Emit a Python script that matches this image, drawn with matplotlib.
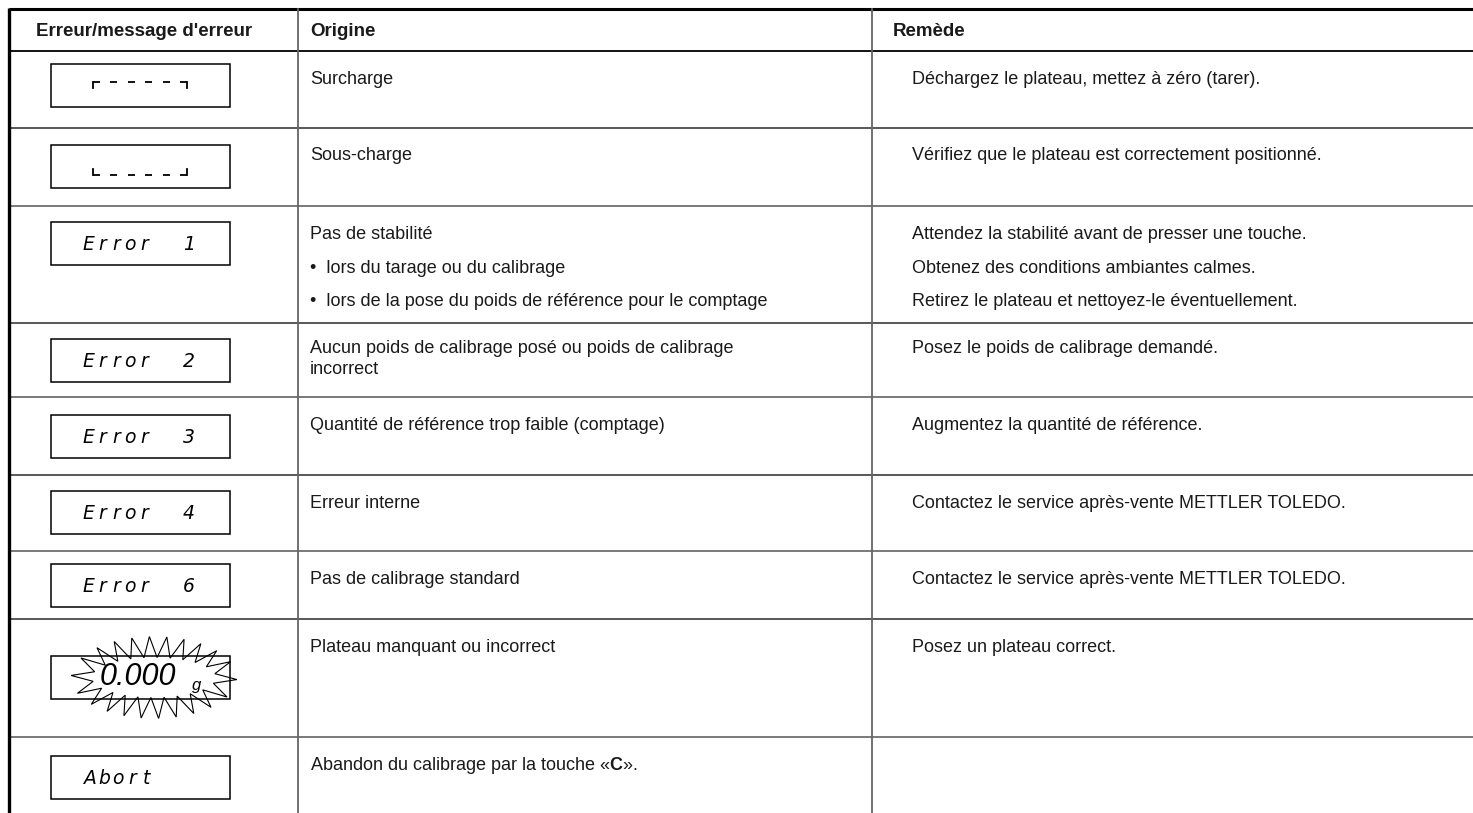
import numpy as np
import matplotlib
matplotlib.use("Agg")
import matplotlib.pyplot as plt
from matplotlib.patches import Rectangle, Polygon

# ---------------- data ----------------
headers = ["Erreur/message d'erreur", "Origine", "Remède"]
displays = ["OVERLOAD", "UNDERLOAD", "Error 1", "Error 2", "Error 3",
            "Error 4", "Error 6", "0.000 g", "Abort"]
origins = [
    ["Surcharge"],
    ["Sous-charge"],
    ["Pas de stabilité",
     "•  lors du tarage ou du calibrage",
     "•  lors de la pose du poids de référence pour le comptage"],
    ["Aucun poids de calibrage posé ou poids de calibrage", "incorrect"],
    ["Quantité de référence trop faible (comptage)"],
    ["Erreur interne"],
    ["Pas de calibrage standard"],
    ["Plateau manquant ou incorrect"],
    ["Abandon du calibrage par la touche «$\\mathbf{C}$»."],
]
remedies = [
    ["Déchargez le plateau, mettez à zéro (tarer)."],
    ["Vérifiez que le plateau est correctement positionné."],
    ["Attendez la stabilité avant de presser une touche.",
     "Obtenez des conditions ambiantes calmes.",
     "Retirez le plateau et nettoyez-le éventuellement."],
    ["Posez le poids de calibrage demandé."],
    ["Augmentez la quantité de référence."],
    ["Contactez le service après-vente METTLER TOLEDO."],
    ["Contactez le service après-vente METTLER TOLEDO."],
    ["Posez un plateau correct."],
    [],
]

# ---------------- layout ----------------
W, H = 1473, 813
row_lines = [51, 128, 206, 323, 397, 475, 551, 619, 737]
col_x = [9, 298, 872]
BODY = ['Liberation Sans', 'DejaVu Sans']
TXT = '#1a1a1a'

plt.rcParams['font.family'] = BODY
plt.rcParams['mathtext.fontset'] = 'custom'
plt.rcParams['mathtext.bf'] = 'Liberation Sans:bold'
plt.rcParams['mathtext.rm'] = 'Liberation Sans'

fig = plt.figure(figsize=(W / 100, H / 100), dpi=100)
ax = fig.add_axes([0, 0, 1, 1])
ax.set_xlim(0, W)
ax.set_ylim(H, 0)
ax.axis('off')

# grid lines
ax.plot([col_x[0], W], [9, 9], color='black', lw=2.2, solid_capstyle='butt')
ax.plot([col_x[0], W], [51, 51], color='black', lw=1.3)
for k, y in enumerate(row_lines[1:]):
    ax.plot([col_x[0], W], [y, y], color='#2a2a2a' if k % 2 == 0 else '#555555', lw=1.1)
ax.plot([col_x[0], col_x[0]], [8, H], color='black', lw=2.4, solid_capstyle='butt')
for x in col_x[1:]:
    ax.plot([x, x], [9, H], color='#666666', lw=1.3)

# headers
fs = 13
hfs = 13.5
ax.text(144, 31, headers[0], ha='center', va='center', fontsize=hfs, fontweight='bold', color=TXT)
ax.text(310, 31, headers[1], ha='left', va='center', fontsize=hfs, fontweight='bold', color=TXT)
ax.text(893, 31, headers[2], ha='left', va='center', fontsize=hfs, fontweight='bold', color=TXT)

row_tops = row_lines

# text cells
for i, (orig, rem) in enumerate(zip(origins, remedies)):
    top = row_tops[i]
    y0 = top + (25 if i == 3 else 28)
    steps = [0, 34, 67] if i == 2 else [0, 21, 42]
    for k, line in enumerate(orig):
        ax.text(310, y0 + steps[k], line, ha='left', va='center', fontsize=fs, color=TXT)
    for k, line in enumerate(rem):
        ax.text(912, y0 + steps[k], line, ha='left', va='center', fontsize=fs, color=TXT)

# display boxes
BX0, BX1 = 51, 230
DISP_FONT = ['DejaVu Sans']
box_off = [13, 17, 16, 16, 18, 16, 13, 37, 19]
for i, disp in enumerate(displays):
    top = row_tops[i]
    by0 = top + box_off[i]
    bh = 43
    cy = by0 + bh / 2
    ax.add_patch(Rectangle((BX0, by0), BX1 - BX0, bh, fill=False, ec='black', lw=1.1, zorder=3))
    if disp in ("OVERLOAD", "UNDERLOAD"):
        segs = np.linspace(93, 180, 6)
        if disp == "OVERLOAD":
            ly, tick = cy - 3.5, cy + 2.5
        else:
            ly, tick = cy + 9, cy + 3
        for k, sx in enumerate(segs):
            ax.plot([sx, sx + 7], [ly, ly], color='black', lw=1.3, solid_capstyle='butt')
        ax.plot([segs[0], segs[0]], [ly, tick], color='black', lw=1.3)
        ax.plot([segs[-1] + 7, segs[-1] + 7], [ly, tick], color='black', lw=1.3)
    elif disp.startswith("Error"):
        word, num = disp.split()
        for k, ch in enumerate(word):
            ax.text(88 + 14 * k, cy + 1, ch, ha='center', va='center', fontsize=13.5,
                    style='oblique', family=DISP_FONT, color='black')
        ax.text(189, cy + 1, num, ha='center', va='center', fontsize=13.5,
                style='oblique', family=DISP_FONT, color='black')
    elif disp == "Abort":
        for k, ch in enumerate(disp):
            ax.text(90 + 14 * k, cy + 1, ch, ha='center', va='center', fontsize=13.5,
                    style='oblique', family=DISP_FONT, color='black')
    else:
        # flashing 0.000 g display with starburst (spikes spread evenly along an ellipse)
        cx = 154
        n = 22
        tt = np.linspace(0, 2 * np.pi, 4000)
        mx, my = 72 * np.cos(tt), 30 * np.sin(tt)
        seg = np.hypot(np.diff(mx), np.diff(my))
        s = np.concatenate([[0], np.cumsum(seg)])
        targets = np.linspace(0, s[-1], 2 * n, endpoint=False)
        t = np.interp(targets, s, tt) + 0.05
        outer = np.arange(2 * n) % 2 == 0
        rx = np.where(outer, 83, 62)
        ry = np.where(outer, 41, 20)
        px = cx + rx * np.cos(t)
        py = cy + ry * np.sin(t)
        ax.add_patch(Polygon(np.column_stack([px, py]), closed=True, fill=False,
                             ec='black', lw=0.8, zorder=4))
        val, unit = disp.split()
        ax.text(138, cy - 1, val, ha='center', va='center', fontsize=22, style='italic',
                color='black', zorder=5)
        ax.text(197, cy + 8, unit, ha='center', va='center', fontsize=12, style='italic',
                color='black', zorder=5)

fig.savefig('out.png', dpi=100, facecolor='white')
